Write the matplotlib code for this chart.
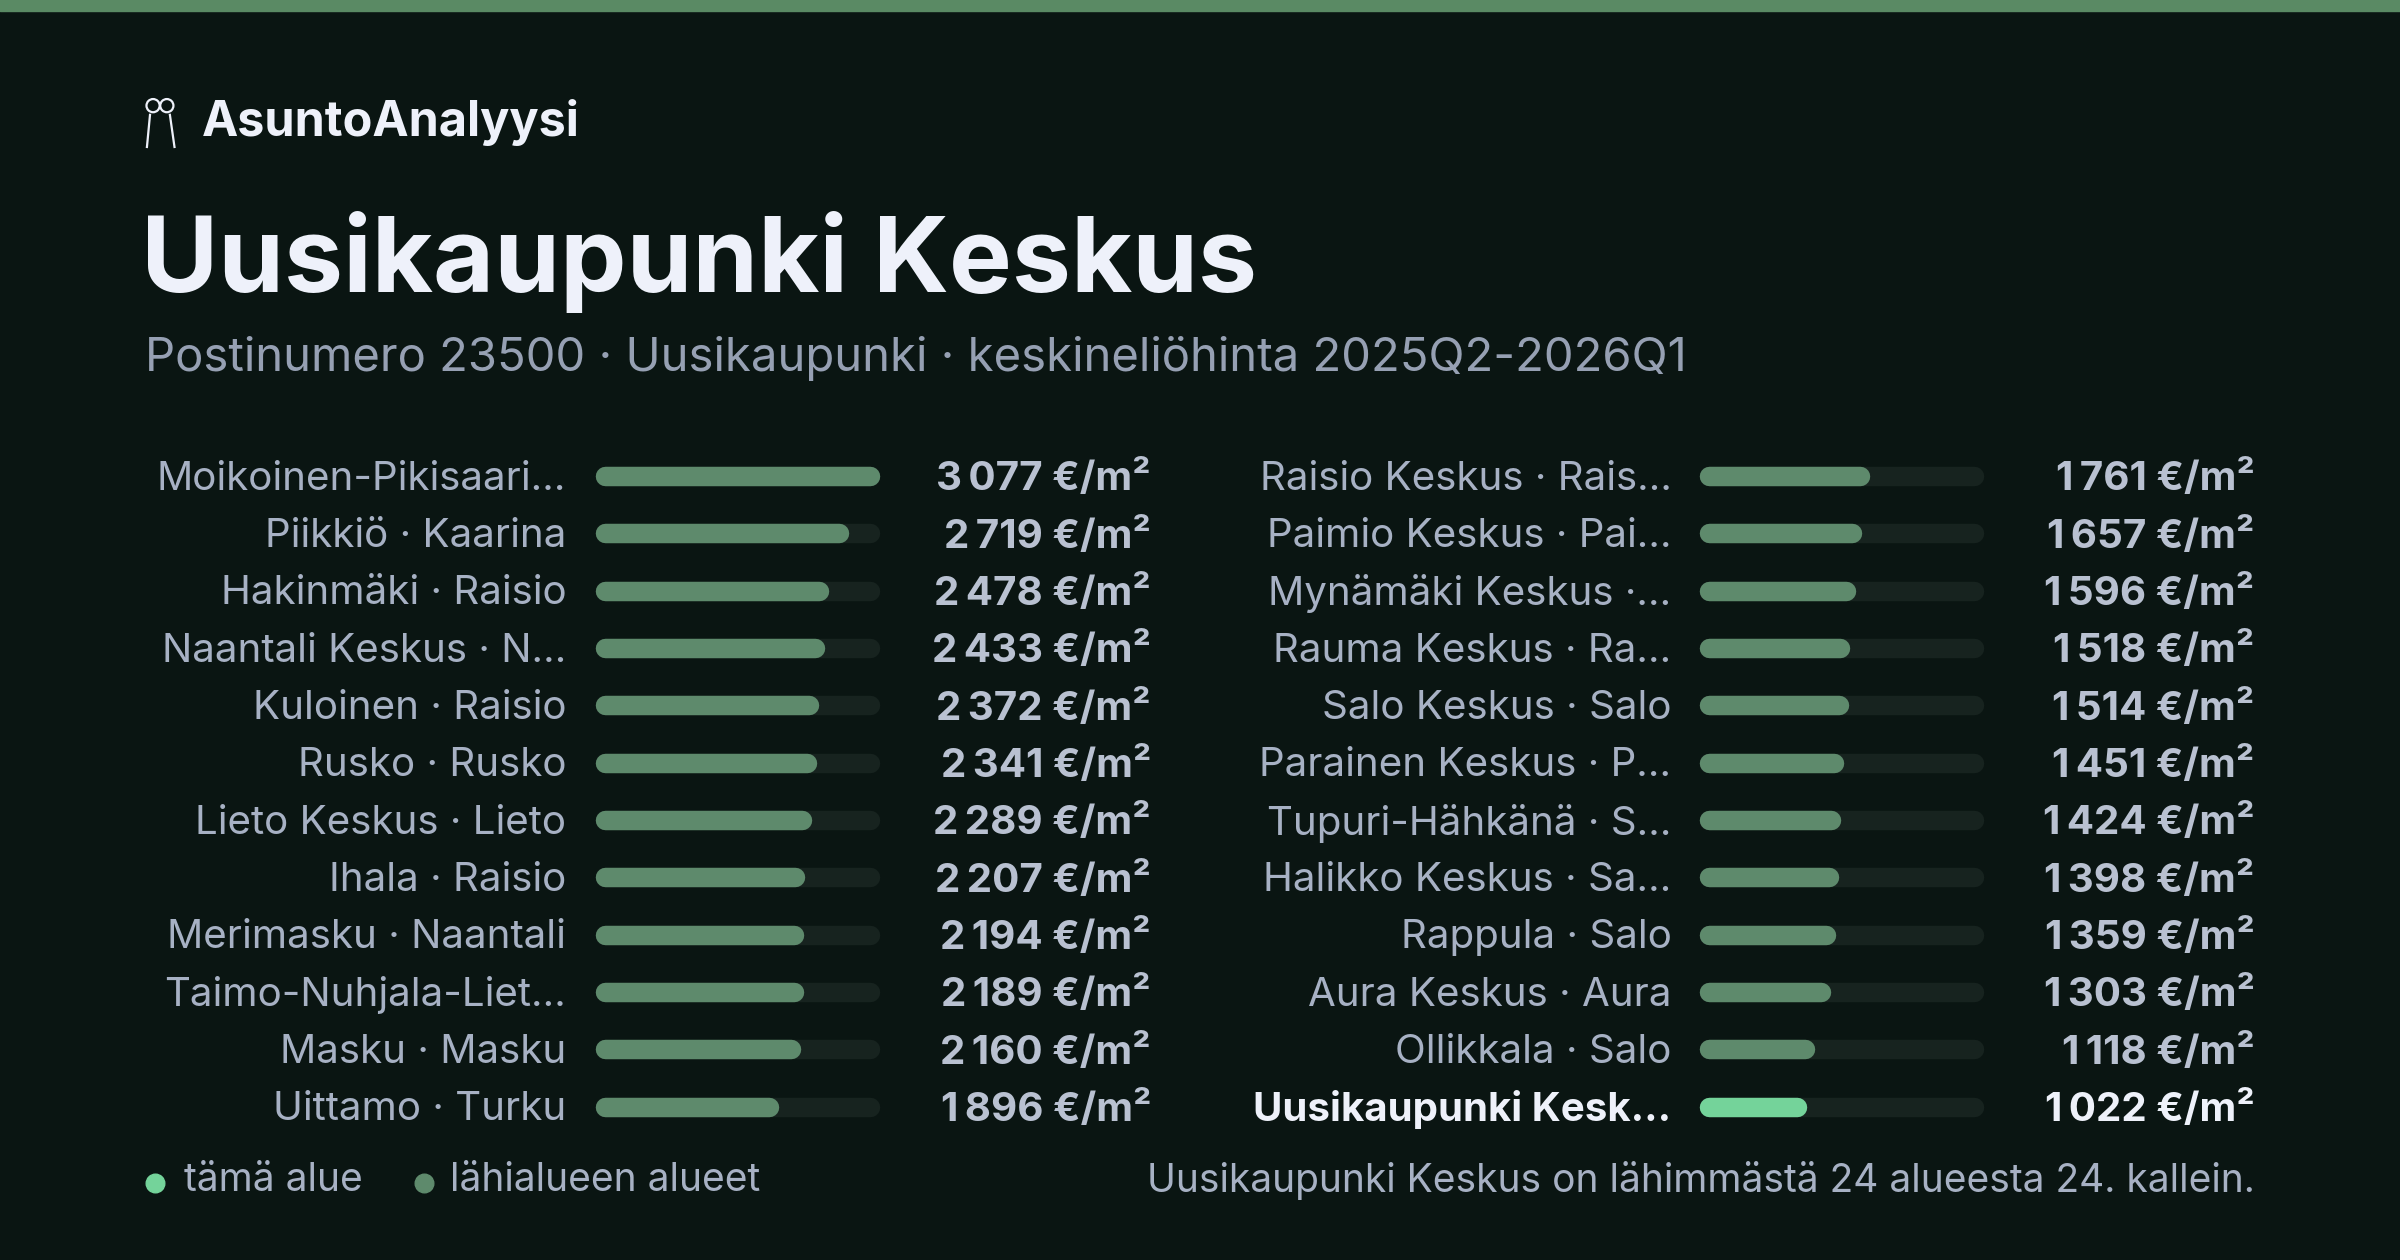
import matplotlib.pyplot as plt

plt.rcParams['font.family'] = ['Inter', 'DejaVu Sans']

# Data
left_names = ["Moikoinen-Pikisaari…", "Piikkiö · Kaarina", "Hakinmäki · Raisio", "Naantali Keskus · N…",
              "Kuloinen · Raisio", "Rusko · Rusko", "Lieto Keskus · Lieto", "Ihala · Raisio",
              "Merimasku · Naantali", "Taimo-Nuhjala-Liet…", "Masku · Masku", "Uittamo · Turku"]
left_values = [3077, 2719, 2478, 2433, 2372, 2341, 2289, 2207, 2194, 2189, 2160, 1896]
right_names = ["Raisio Keskus · Rais…", "Paimio Keskus · Pai…", "Mynämäki Keskus ·…", "Rauma Keskus · Ra…",
               "Salo Keskus · Salo", "Parainen Keskus · P…", "Tupuri-Hähkänä · S…", "Halikko Keskus · Sa…",
               "Rappula · Salo", "Aura Keskus · Aura", "Ollikkala · Salo", "Uusikaupunki Kesk…"]
right_values = [1761, 1657, 1596, 1518, 1514, 1451, 1424, 1398, 1359, 1303, 1118, 1022]
highlight = "Uusikaupunki Kesk…"

BG = "#0a1512"
BAR = "#5e8a6c"
HI = "#74d39a"
TRACK = "#17231f"
LABEL = "#a7b1c4"
WHITE = "#eef1fa"

W, H = 1568, 823
fig = plt.figure(figsize=(24, 12.6), dpi=100, facecolor=BG)

# overlay axes in reference pixel coordinates for decoration and text
bg = fig.add_axes([0, 0, 1, 1])
bg.set_xlim(0, W)
bg.set_ylim(H, 0)
bg.axis("off")
bg.set_facecolor(BG)

bg.fill_between([0, W], 0, 7, color="#5a8a64")

# logo icon (rough key shape)
bg.scatter([100, 109], [69, 69], s=90, facecolors="none", edgecolors=WHITE, lw=1.6)
bg.plot([98, 96], [75, 96], color=WHITE, lw=1.6)
bg.plot([111, 114], [75, 96], color=WHITE, lw=1.6)

bg.text(132, 80, "AsuntoAnalyysi", color=WHITE, fontsize=35, fontweight="bold", va="center")
bg.text(92, 171, "Uusikaupunki Keskus", color=WHITE, fontsize=76, fontweight="bold", va="center")
bg.text(95, 234, "Postinumero 23500 · Uusikaupunki · keskineliöhinta 2025Q2-2026Q1",
        color="#96a0b3", fontsize=34, va="center")

row0, step = 311, 37.45
vmax = max(left_values)

def column(names, values, label_x, bar_x0, bar_x1, value_x):
    cap = 6.5
    ax = fig.add_axes([(bar_x0 + cap) / W, 1 - (row0 - step / 2 + step * len(names)) / H,
                       (bar_x1 - bar_x0 - 2 * cap) / W, step * len(names) / H])
    ax.set_xlim(0, vmax)
    ax.set_ylim(len(names) - 0.5, -0.5)
    ax.axis("off")
    for i, (n, v) in enumerate(zip(names, values)):
        hi = n == highlight
        ax.plot([0, vmax], [i, i], color=TRACK, lw=14, solid_capstyle="round", clip_on=False)
        ax.plot([0, v], [i, i], color=HI if hi else BAR, lw=14, solid_capstyle="round", clip_on=False)
        y = row0 + i * step + 2
        bg.text(label_x, y, n, color=WHITE if hi else LABEL, fontsize=29,
                ha="right", va="center", fontweight="bold" if hi else "normal")
        bg.text(value_x, y, f"{v:,}".replace(",", "\u2009") + " €/m²",
                color=WHITE if hi else "#b9c1d1", fontsize=29, ha="right", va="center", fontweight="bold")

column(left_names, left_values, 370, 389, 575, 752)
column(right_names, right_values, 1092, 1110, 1296, 1473)

# legend and footer
bg.scatter([101], [773], s=180, color=HI)
bg.text(120, 771, "tämä alue", color=LABEL, fontsize=28, va="center")
bg.scatter([277], [773], s=180, color=BAR)
bg.text(294, 771, "lähialueen alueet", color=LABEL, fontsize=28, va="center")
bg.text(1473, 771, "Uusikaupunki Keskus on lähimmästä 24 alueesta 24. kallein.",
        color=LABEL, fontsize=28, ha="right", va="center")

plt.savefig("out.png", facecolor=BG)
